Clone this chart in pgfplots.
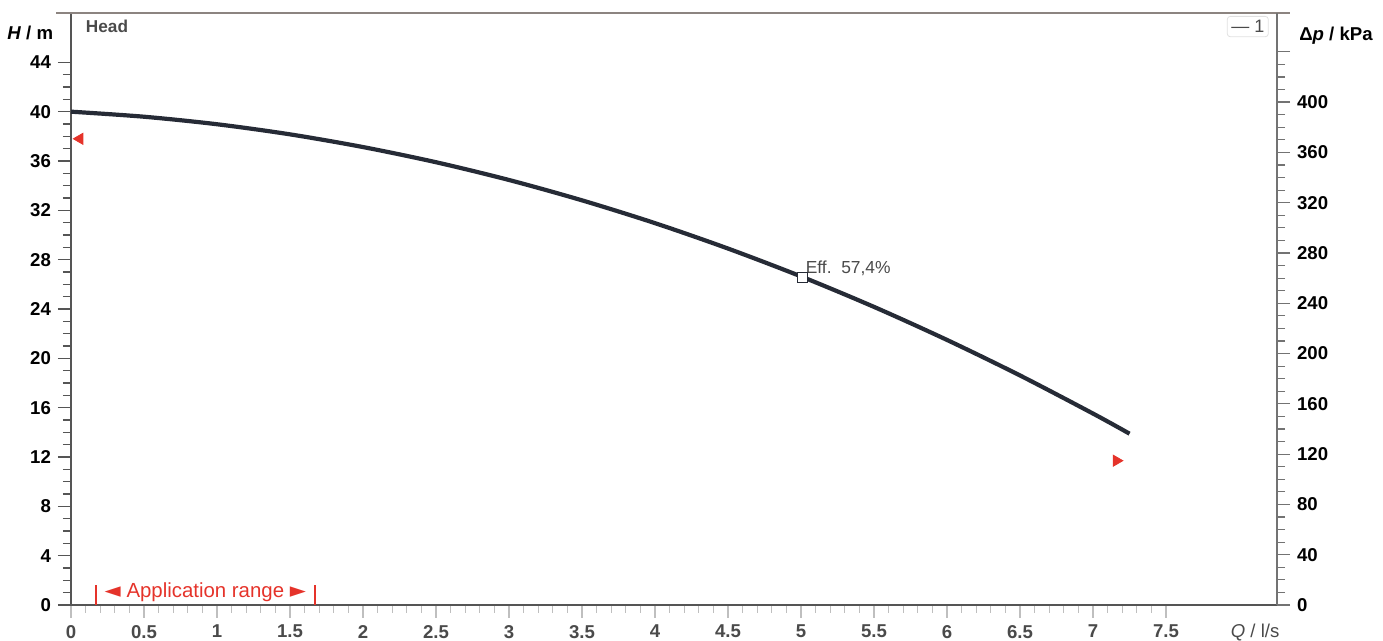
\documentclass[border=0pt]{standalone}
\usepackage{fontspec}
\setmainfont{Liberation Sans}
\newfontfamily\symfont{DejaVu Sans}
\usepackage{pgfplots}
\pgfplotsset{compat=1.18}
\definecolor{axgray}{HTML}{555555}
\definecolor{topgray}{HTML}{8C8480}
\definecolor{curvecol}{HTML}{262B36}
\definecolor{appred}{HTML}{E5332A}
\definecolor{txtgray}{HTML}{4A4A4A}
\begin{document}
\begin{tikzpicture}
\begin{axis}[
  at={(0pt,0pt)}, anchor=south west, scale only axis,
  width=603pt, height=296pt,
  xmin=0, xmax=8.26, ymin=0, ymax=48,
  axis x line*=bottom, axis y line*=left,
  axis line style={axgray, line width=1pt, -},
  xtick={0,0.5,1,1.5,2,2.5,3,3.5,4,4.5,5,5.5,6,6.5,7,7.5},
  xticklabels={0,0.5,1,1.5,2,2.5,3,3.5,4,4.5,5,5.5,6,6.5,7,7.5},
  minor x tick num=4,
  ytick={0,4,...,44},
  minor y tick num=3,
  tick align=outside,
  major tick length=6.5pt, minor tick length=4pt,
  y tick style={axgray, line width=0.6pt},
  x tick style={black!25, line width=0.6pt},
  ticklabel style={font=\fontsize{9.3}{11}\selectfont\bfseries, text=black},
  xticklabel style={text=txtgray},
  /pgf/number format/assume math mode=true,
  clip=false,
]
\addplot[curvecol, line width=2.1pt, smooth] coordinates {
(0,40) (0.5,39.59) (1,38.98) (1.5,38.16) (2,37.13) (2.5,35.90) (3,34.46)
(3.5,32.81) (4,30.96) (4.5,28.90) (5,26.64) (5.5,24.17) (6,21.49)
(6.5,18.61) (7,15.52) (7.25,13.89)};
\addplot[only marks, mark=square*, mark size=2.5pt, mark options={draw=curvecol, fill=white, line width=0.9pt}] coordinates {(5.01,26.55)};
\addplot[only marks, mark=triangle*, mark size=3.2pt, mark options={appred, rotate=90}] coordinates {(0.06,37.8)};
\addplot[only marks, mark=triangle*, mark size=3.2pt, mark options={appred, rotate=-90}] coordinates {(7.16,11.7)};
\node[anchor=base west, font=\fontsize{8.7}{10}\selectfont, text=txtgray, inner sep=0pt] at (axis cs:5.03,26.85) {Eff.\ \ 57,4\%};
% application range
\draw[appred, line width=0.9pt] (axis cs:0.17,0) -- (axis cs:0.17,1.6);
\draw[appred, line width=0.9pt] (axis cs:1.67,0) -- (axis cs:1.67,1.6);
\node[anchor=base, font=\fontsize{10.2}{12}\selectfont, text=appred, inner sep=0pt] at (axis cs:0.92,0.62) {{\symfont\fontsize{10.5}{12}\selectfont ◄} Application range {\symfont\fontsize{10.5}{12}\selectfont ►}};
% labels
\node[anchor=base west, font=\fontsize{8.6}{10}\selectfont\bfseries, text=txtgray, inner sep=0pt] at (axis cs:0.1,46.45) {Head};
\node[anchor=base east, font=\fontsize{9.3}{11}\selectfont\bfseries, inner sep=0pt] at (axis cs:-0.12,45.85) {\textit{H} / m};
\node[anchor=base, font=\fontsize{9.3}{11}\selectfont, text=txtgray, inner sep=0pt] at (axis cs:8.11,-2.6) {\textit{Q} / l/s};
\node[draw=black!12, rounded corners=1.5pt, font=\fontsize{9}{11}\selectfont, text=txtgray, inner sep=2pt, minimum height=10pt] at (axis cs:8.06,46.9) {— 1};
\draw[topgray, line width=1pt] (axis cs:-0.1,48) -- (axis cs:8.35,48);
\end{axis}
\begin{axis}[
  at={(0pt,0pt)}, anchor=south west, scale only axis,
  width=603pt, height=296pt,
  xmin=0, xmax=8.26, ymin=0, ymax=470.88,
  axis x line=none, axis y line*=right,
  axis line style={black!55, line width=1pt, -},
  ytick={0,40,...,440},
  yticklabels={0,40,80,120,160,200,240,280,320,360,400,{}},
  minor y tick num=3,
  tick align=outside,
  major tick length=6.5pt, minor tick length=4pt,
  y tick style={black!55, line width=0.6pt},
  ticklabel style={font=\fontsize{9.3}{11}\selectfont\bfseries, text=black},
  /pgf/number format/assume math mode=true,
  clip=false,
]
\node[anchor=base west, font=\fontsize{9.3}{11}\selectfont\bfseries, inner sep=0pt] at (axis cs:8.41,449) {Δ\textit{p} / kPa};
\end{axis}
\pgfresetboundingbox
\path (-35.5pt,-18pt) rectangle (656pt,302.5pt);
\end{tikzpicture}
\end{document}
